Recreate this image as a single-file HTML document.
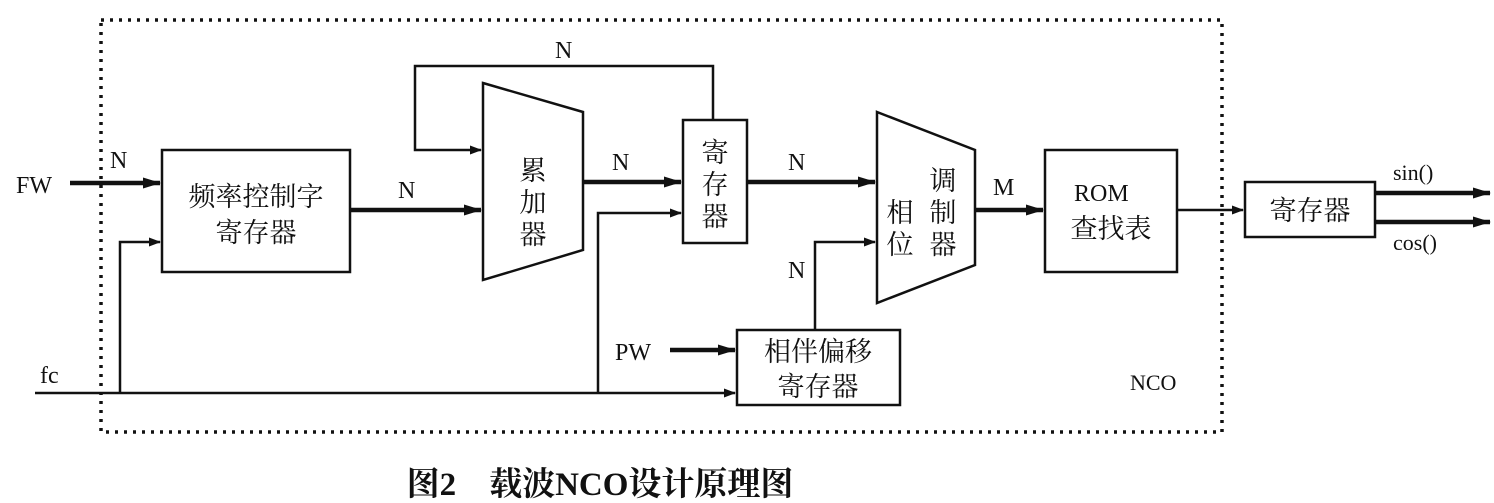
<!DOCTYPE html>
<html><head><meta charset="utf-8"><style>
body{margin:0;background:#fff;}
svg{display:block}
text{font-family:"Liberation Serif","Noto Serif CJK SC",serif;fill:#111}
.cj{font-family:"Liberation Serif","Noto Sans CJK SC",sans-serif}
</style></head><body>
<svg width="1494" height="503" viewBox="0 0 1494 503" xmlns="http://www.w3.org/2000/svg">
<defs><marker id="a" markerWidth="12" markerHeight="9" refX="11" refY="4.5" orient="auto" markerUnits="userSpaceOnUse"><path d="M0,0 L12,4.5 L0,9 z" fill="#111"/></marker>
<marker id="b" markerWidth="18" markerHeight="11" refX="17" refY="5.5" orient="auto" markerUnits="userSpaceOnUse"><path d="M0,0 L18,5.5 L0,11 z" fill="#111"/></marker></defs>
<rect x="101" y="20" width="1121" height="412" fill="none" stroke="#111" stroke-width="3.5" stroke-dasharray="3,6"/>
<g fill="none" stroke="#111" stroke-width="2.5">
<rect x="162" y="150" width="188" height="122"/>
<polygon points="483,83 583,112 583,250 483,280"/>
<rect x="683" y="120" width="64" height="123"/>
<polygon points="877,112 975,150 975,265 877,303"/>
<rect x="1045" y="150" width="132" height="122"/>
<rect x="1245" y="182" width="130" height="55"/>
<rect x="737" y="330" width="163" height="75"/>
</g>
<g stroke="#111" fill="none" stroke-width="4.5">
<line x1="70" y1="183" x2="160" y2="183" marker-end="url(#b)"/>
<line x1="350" y1="210" x2="481" y2="210" marker-end="url(#b)"/>
<line x1="583" y1="182" x2="681" y2="182" marker-end="url(#b)"/>
<line x1="747" y1="182" x2="875" y2="182" marker-end="url(#b)"/>
<line x1="975" y1="210" x2="1043" y2="210" marker-end="url(#b)"/>
<line x1="670" y1="350" x2="735" y2="350" marker-end="url(#b)"/>
<line x1="1375" y1="193" x2="1490" y2="193" marker-end="url(#b)"/>
<line x1="1375" y1="222" x2="1490" y2="222" marker-end="url(#b)"/>
</g>
<g stroke="#111" fill="none" stroke-width="2.5">
<polyline points="35,393 735,393" marker-end="url(#a)"/>
<polyline points="120,393 120,242 160,242" marker-end="url(#a)"/>
<polyline points="598,393 598,213 681,213" marker-end="url(#a)"/>
<polyline points="713,120 713,66 415,66 415,150 481,150" marker-end="url(#a)"/>
<polyline points="815,330 815,242 875,242" marker-end="url(#a)"/>
<polyline points="1177,210 1243,210" marker-end="url(#a)"/>
</g>
<g font-size="24">
<text x="16" y="193">FW</text>
<text x="110" y="168">N</text>
<text x="398" y="198">N</text>
<text x="555" y="58">N</text>
<text x="612" y="170">N</text>
<text x="788" y="170">N</text>
<text x="788" y="278">N</text>
<text x="993" y="195">M</text>
<text x="40" y="383">fc</text>
<text x="615" y="360">PW</text>
<text x="1130" y="390" font-size="22">NCO</text>
<text x="1393" y="180" font-size="22">sin()</text>
<text x="1393" y="250" font-size="22">cos()</text>
<text x="1074" y="201">ROM</text>
</g>
<g font-size="27" class="cj">
<text x="256" y="206" text-anchor="middle">频率控制字</text>
<text x="256" y="242" text-anchor="middle">寄存器</text>
<text x="533" y="180" text-anchor="middle">累</text>
<text x="533" y="212" text-anchor="middle">加</text>
<text x="533" y="244" text-anchor="middle">器</text>
<text x="715" y="162" text-anchor="middle">寄</text>
<text x="715" y="194" text-anchor="middle">存</text>
<text x="715" y="226" text-anchor="middle">器</text>
<text x="900" y="222" text-anchor="middle">相</text>
<text x="900" y="254" text-anchor="middle">位</text>
<text x="943" y="190" text-anchor="middle">调</text>
<text x="943" y="222" text-anchor="middle">制</text>
<text x="943" y="254" text-anchor="middle">器</text>
<text x="1111" y="238" text-anchor="middle">查找表</text>
<text x="1310" y="220" text-anchor="middle">寄存器</text>
<text x="818" y="361" text-anchor="middle">相伴偏移</text>
<text x="818" y="396" text-anchor="middle">寄存器</text>
<text x="600" y="495" text-anchor="middle" font-size="33" font-weight="bold" font-family="'Liberation Serif','Noto Serif CJK SC',serif">图2　载波NCO设计原理图</text>
</g>
</svg>
</body></html>
